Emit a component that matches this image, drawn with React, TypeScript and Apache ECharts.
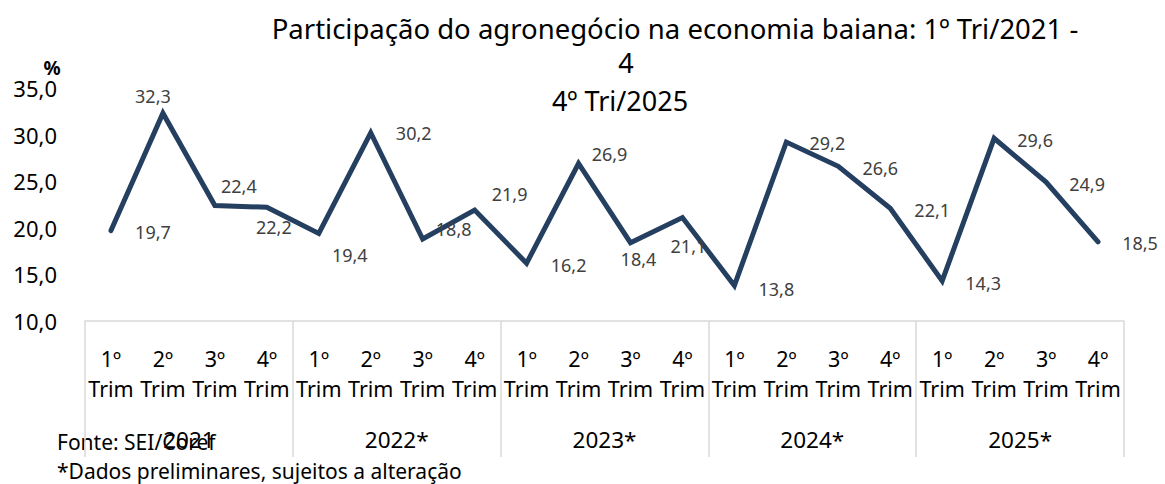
import React, { useEffect, useRef } from "react";
import * as echarts from "echarts";

const quarterLabels = [
  "1º\nTrim", "2º\nTrim", "3º\nTrim", "4º\nTrim",
  "1º\nTrim", "2º\nTrim", "3º\nTrim", "4º\nTrim",
  "1º\nTrim", "2º\nTrim", "3º\nTrim", "4º\nTrim",
  "1º\nTrim", "2º\nTrim", "3º\nTrim", "4º\nTrim",
  "1º\nTrim", "2º\nTrim", "3º\nTrim", "4º\nTrim",
];
const yearLabels = ["2021", "2022*", "2023*", "2024*", "2025*"];
const participation = [
  19.7, 32.3, 22.4, 22.2,
  19.4, 30.2, 18.8, 21.9,
  16.2, 26.9, 18.4, 21.1,
  13.8, 29.2, 26.6, 22.1,
  14.3, 29.6, 24.9, 18.5,
];
// label offsets (px) relative to each point, as placed in the original
const labelOffsets: [number, number][] = [
  [42, 1], [-10, -17], [24, -19], [7, 20],
  [31, 22], [43, 0], [31, -10], [35, -16],
  [42, 2], [31, -9], [8, 16], [6, 28],
  [42, 3], [41, 1], [42, 2], [42, 2],
  [41, 2], [41, 2], [41, 2], [42, 1],
];
const titleLines = ["Participação do agronegócio na economia baiana: 1º Tri/2021 -", "4", "4º Tri/2025"];
const sourceNote = "Fonte: SEI/Coref";
const prelimNote = "*Dados preliminares, sujeitos a alteração";

const FONT = "'Noto Sans', 'Open Sans', sans-serif";

export default function App() {
  const ref = useRef<HTMLDivElement>(null);
  useEffect(() => {
    if (!ref.current) return;
    const chart = echarts.init(ref.current, undefined, { renderer: "svg" });
    const fmt = (v: number) => v.toFixed(1).replace(".", ",");
    chart.setOption({
      animation: false,
      backgroundColor: "#ffffff",
      textStyle: { fontFamily: FONT },
      grid: { left: 85, right: 41, top: 88, bottom: 163, containLabel: false },
      xAxis: [
        {
          type: "category",
          data: quarterLabels,
          boundaryGap: true,
          axisLine: { show: true, lineStyle: { color: "#d9d9d9", width: 1.5 } },
          axisTick: { show: false },
          axisLabel: {
            interval: 0,
            fontSize: 21.5,
            lineHeight: 30,
            margin: 22,
            color: "#000000",
            fontFamily: FONT,
          },
          splitLine: { show: false },
        },
        {
          type: "category",
          data: yearLabels,
          position: "bottom",
          boundaryGap: true,
          axisLine: { show: false },
          axisTick: { show: true, length: 136, lineStyle: { color: "#d9d9d9", width: 1.5 } },
          axisLabel: {
            interval: 0,
            fontSize: 22.5,
            margin: 107,
            color: "#000000",
            fontFamily: FONT,
          },
          splitLine: { show: false },
        },
      ],
      yAxis: {
        type: "value",
        min: 10,
        max: 35,
        interval: 5,
        axisLine: { show: false },
        axisTick: { show: false },
        splitLine: { show: false },
        axisLabel: {
          formatter: (v: number) => fmt(v),
          fontSize: 22,
          margin: 28,
          color: "#000000",
          fontFamily: FONT,
        },
      },
      series: [
        {
          type: "line",
          xAxisIndex: 0,
          data: participation.map((v, i) => ({
            value: v,
            label: { offset: labelOffsets[i] },
          })),
          symbol: "circle",
          symbolSize: 2,
          showSymbol: true,
          itemStyle: { color: "#243F60" },
          lineStyle: { color: "#243F60", width: 5, cap: "round", join: "miter" },
          label: {
            show: true,
            position: "inside",
            align: "center",
            verticalAlign: "middle",
            formatter: (p: any) => fmt(p.value),
            fontSize: 18,
            color: "#404040",
            fontFamily: FONT,
          },
        },
      ],
      graphic: [
        {
          type: "text",
          x: 675,
          y: 28,
          style: { text: titleLines[0], font: `27.5px ${FONT}`, fill: "#000", align: "center", verticalAlign: "middle" },
        },
        {
          type: "text",
          x: 626,
          y: 62,
          style: { text: titleLines[1], font: `27px ${FONT}`, fill: "#000", align: "center", verticalAlign: "middle" },
        },
        {
          type: "text",
          x: 620,
          y: 100,
          style: { text: titleLines[2], font: `27px ${FONT}`, fill: "#000", align: "center", verticalAlign: "middle" },
        },
        {
          type: "text",
          x: 52,
          y: 68,
          style: { text: "%", font: `bold 19px ${FONT}`, fill: "#000", align: "center", verticalAlign: "middle" },
        },
        {
          type: "text",
          x: 57,
          y: 442,
          style: { text: sourceNote, font: `21px ${FONT}`, fill: "#000", align: "left", verticalAlign: "middle" },
        },
        {
          type: "text",
          x: 57,
          y: 471,
          style: { text: prelimNote, font: `21px ${FONT}`, fill: "#000", align: "left", verticalAlign: "middle" },
        },
      ],
    });
    return () => chart.dispose();
  }, []);
  return (
    <div
      ref={ref}
      style={{ position: "fixed", left: 0, top: 0, width: 1165, height: 484, background: "#fff" }}
    />
  );
}
